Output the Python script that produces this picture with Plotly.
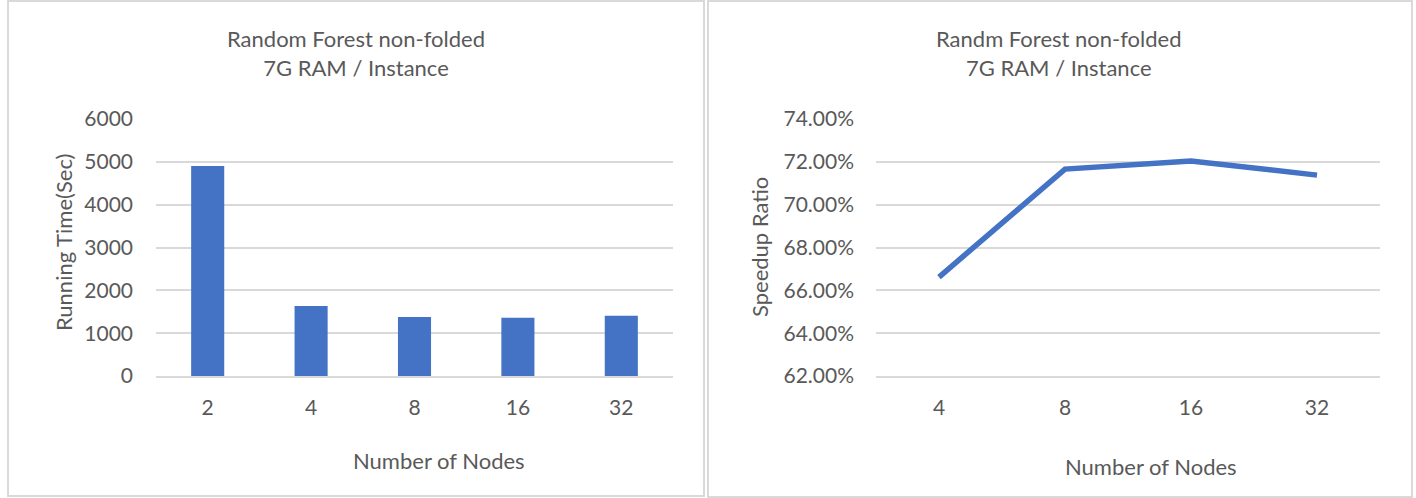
import plotly.graph_objects as go

# ---- data ----
nodes_left = ["2", "4", "8", "16", "32"]
running_time = [4900, 1635, 1380, 1360, 1405]

nodes_right = ["4", "8", "16", "32"]
speedup_ratio = [0.6662, 0.7166, 0.7204, 0.7138]

left_title = "Random Forest non-folded<br>7G RAM / Instance"
right_title = "Randm Forest non-folded<br>7G RAM / Instance"
x_title = "Number of Nodes"
left_y_title = "Running Time(Sec)"
right_y_title = "Speedup Ratio"

# ---- layout constants ----
W, H = 1416, 498
BLUE = "#4472C4"
GRID = "#d9d9d9"
TXT = "#595959"
FONT = "Lato, Open Sans, sans-serif"


def px(x):
    return x / W


def py(y):
    return 1 - y / H


fig = go.Figure()

fig.add_trace(go.Bar(
    x=nodes_left, y=running_time, marker=dict(color=BLUE, line=dict(width=0)),
    width=0.32, xaxis="x", yaxis="y", showlegend=False,
))
fig.add_trace(go.Scatter(
    x=nodes_right, y=speedup_ratio, mode="lines",
    line=dict(color=BLUE, width=5.5), xaxis="x2", yaxis="y2", showlegend=False,
))

axis_font = dict(family=FONT, size=21, color=TXT)
axis_title_font = dict(family=FONT, size=22, color=TXT)

fig.update_layout(
    template="none",
    width=W, height=H, autosize=False,
    margin=dict(l=0, r=0, t=0, b=0, pad=0, autoexpand=False),
    paper_bgcolor="white", plot_bgcolor="white",
    font=dict(family=FONT, color=TXT),
    xaxis=dict(
        domain=[px(156), px(673)], type="category", anchor="y", automargin=False,
        range=[-0.5, len(nodes_left) - 0.5],
        showgrid=False, zeroline=False, showline=True, linecolor=GRID, linewidth=1.5,
        ticks="", tickfont=axis_font, ticklabelstandoff=12,
    ),
    yaxis=dict(
        domain=[py(376), py(119)], range=[0, 6000], dtick=1000, anchor="x", automargin=False,
        showgrid=True, gridcolor=GRID, gridwidth=1.5, zeroline=False, showline=False,
        ticks="", tickfont=axis_font, ticklabelstandoff=22,
    ),
    xaxis2=dict(
        domain=[px(876), px(1380)], type="category", anchor="y2", automargin=False,
        range=[-0.5, len(nodes_right) - 0.5],
        showgrid=False, zeroline=False, showline=True, linecolor=GRID, linewidth=1.5,
        ticks="", tickfont=axis_font, ticklabelstandoff=12,
    ),
    yaxis2=dict(
        domain=[py(376), py(119)], range=[0.62, 0.74], dtick=0.02, tickformat=".2%",
        anchor="x2", automargin=False,
        showgrid=True, gridcolor=GRID, gridwidth=1.5, zeroline=False, showline=False,
        ticks="", tickfont=axis_font, ticklabelstandoff=21,
    ),
)

shapes = [
    dict(type="rect", xref="paper", yref="paper", x0=px(8), x1=px(704), y0=py(496), y1=py(1),
         line=dict(color=GRID, width=2), fillcolor="rgba(0,0,0,0)", layer="below"),
    dict(type="rect", xref="paper", yref="paper", x0=px(708), x1=px(1412), y0=py(497), y1=py(1),
         line=dict(color=GRID, width=2), fillcolor="rgba(0,0,0,0)", layer="below"),
]
fig.update_layout(shapes=shapes)

title_font = dict(family=FONT, size=22, color=TXT)
ann = [
    dict(text=left_title, x=px(356), y=py(53), xref="paper", yref="paper",
         showarrow=False, font=title_font, align="center", xanchor="center", yanchor="middle"),
    dict(text=right_title, x=px(1059), y=py(53), xref="paper", yref="paper",
         showarrow=False, font=title_font, align="center", xanchor="center", yanchor="middle"),
    dict(text=x_title, x=px(439), y=py(460), xref="paper", yref="paper",
         showarrow=False, font=axis_title_font, xanchor="center", yanchor="middle"),
    dict(text=x_title, x=px(1151), y=py(466), xref="paper", yref="paper",
         showarrow=False, font=axis_title_font, xanchor="center", yanchor="middle"),
    dict(text=left_y_title, x=px(63), y=py(243), xref="paper", yref="paper", textangle=-90,
         showarrow=False, font=axis_title_font, xanchor="center", yanchor="middle"),
    dict(text=right_y_title, x=px(760), y=py(247), xref="paper", yref="paper", textangle=-90,
         showarrow=False, font=axis_title_font, xanchor="center", yanchor="middle"),
]
fig.update_layout(annotations=ann)

fig.write_html("out.html", config={"responsive": False})
